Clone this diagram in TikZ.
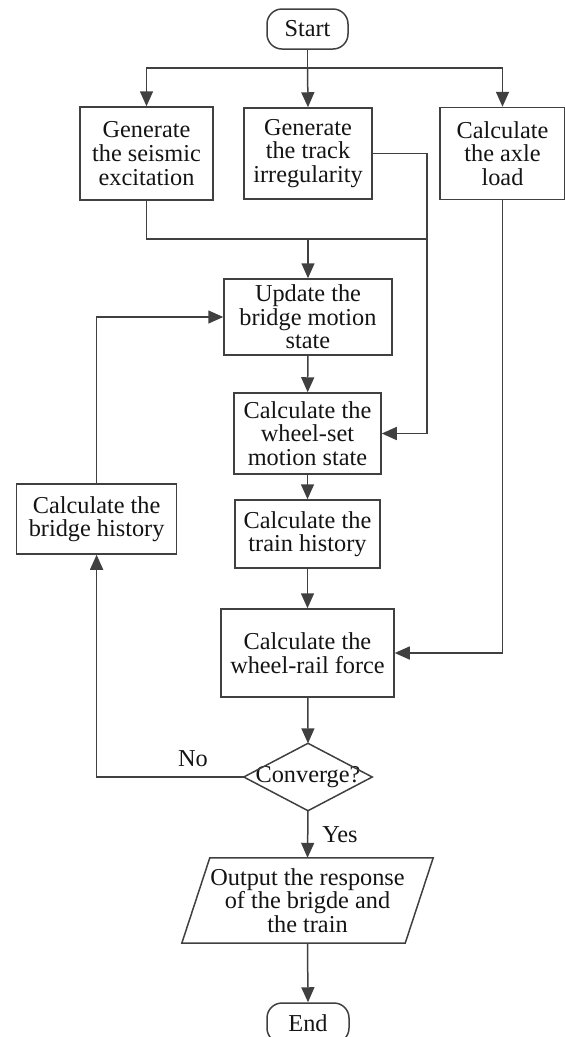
\documentclass[tikz,border=0pt]{standalone}
\usepackage{fontspec}
\setmainfont{Liberation Serif}
\usetikzlibrary{arrows.meta,calc}
\begin{document}
\begin{tikzpicture}[x=1pt,y=-1pt,
  every node/.style={font=\fontsize{24.3}{23.6}\selectfont, text=black!92, align=center, inner sep=0pt},
  box/.style={draw=black!75, line width=1.5pt},
  term/.style={draw=black!75, line width=1.5pt, rounded corners=15pt},
  ghost/.style={draw=none},
  conn/.style={draw=black!75, line width=1.5pt},
  arr/.style={conn, -{Triangle[length=15pt,width=13pt]}}
]
\useasboundingbox (0,0) rectangle (565,1037);

% nodes
\node[term, minimum width=81pt, minimum height=40pt] (start) at (307.5,29) {Start};
\node[box, minimum width=133pt, minimum height=93pt] (gen1) at (146.5,153.5) {Generate\\the seismic\\excitation};
\node[box, minimum width=128pt, minimum height=91pt] (gen2) at (308,153.5) {Generate\\the track\\irregularity};
\node[box, minimum width=125pt, minimum height=92pt] (axle) at (502.5,153.5) {Calculate\\the axle\\load};
\node[box, minimum width=168pt, minimum height=76pt] (update) at (308,317) {Update the\\bridge motion\\state};
\node[box, minimum width=147pt, minimum height=81pt] (wheel) at (307.5,433.5) {Calculate the\\wheel-set\\motion state};
\node[box, minimum width=160pt, minimum height=70pt] (bridge) at (96.6,519) {Calculate the\\bridge history};
\node[box, minimum width=145pt, minimum height=68pt] (train) at (307.5,534) {Calculate the\\train history};
\node[box, minimum width=173pt, minimum height=88pt] (force) at (307.5,653) {Calculate the\\wheel-rail force};
\node[ghost, minimum width=128pt, minimum height=67pt] (conv) at (308,777) {Converge?};
\draw[conn] (conv.north) -- (conv.east) -- (conv.south) -- (conv.west) -- cycle;
\node[ghost, minimum width=251pt, minimum height=85pt] (out) at (307.5,900.5) {Output the response\\of the brigde and\\the train};
\draw[conn] ([xshift=28pt]out.north west) -- (out.north east) -- ([xshift=-28pt]out.south east) -- (out.south west) -- cycle;
\node[term, minimum width=82pt, minimum height=40pt] (end) at (308,1023) {End};

% labels
\node (no) at (193,759) {No};
\node (yes) at (340,835) {Yes};

% connectors
\coordinate (b) at (307.5,68);
\coordinate (j) at (427,239);
\coordinate (trk) at (427,300);
\draw[conn] (start.south) -- (b);
\draw[arr] (b) -| (gen1.north);
\draw[arr] (b) -- (gen2.north);
\draw[arr] (b) -| (axle.north);
\draw[conn] (gen1.south) |- (j);
\draw[arr] (gen2.east) -| (trk) |- (wheel.east);
\draw[arr] (update.north |- j) -- (update.north);
\draw[arr] (update) -- (wheel);
\draw[arr] (wheel) -- (train);
\draw[arr] (train) -- (force);
\draw[arr] (force) -- (conv.north);
\draw[arr] (axle.south) |- (force.east);
\draw[arr] (conv.west) -| (bridge.south);
\draw[arr] (bridge.north) |- (update.west);
\draw[arr] (conv.south) -- (out.north);
\draw[arr] (out.south) -- (end.north);
\end{tikzpicture}
\end{document}
